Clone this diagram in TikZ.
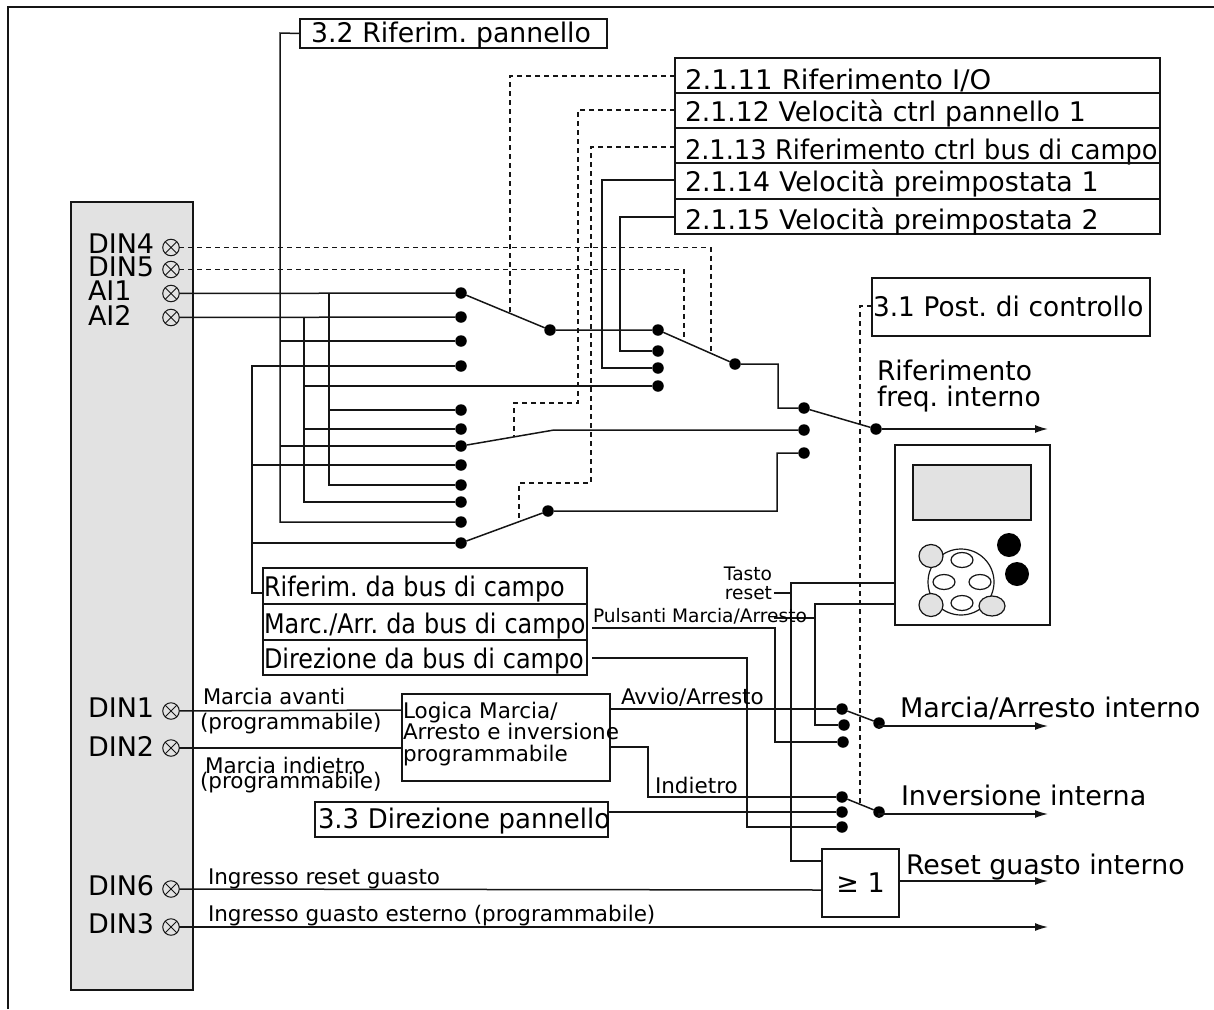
\documentclass[tikz,border=0pt]{standalone}
\usepackage{fontspec}
\usepackage{graphicx}
\setmainfont{DejaVu Sans}
\usetikzlibrary{arrows.meta}
\definecolor{lc}{HTML}{151515}
\definecolor{gr}{HTML}{E2E2E2}
\newcommand\fL{\fontsize{27}{27}\selectfont}
\newcommand\fM{\fontsize{21.5}{21.5}\selectfont}
\newcommand\fS{\fontsize{18.6}{18.6}\selectfont}
\newcommand\W[2]{\scalebox{#1}[1]{#2}}
\frenchspacing
\tikzset{
  wire/.style={draw=lc,line width=1.5pt},
  dash wire/.style={draw=lc,line width=1.2pt,dash pattern=on 5pt off 4pt},
  out wire/.style={wire,-{Latex[length=13pt,width=8pt]}},
  dotn/.style={circle,fill=black,draw=none,minimum size=11.5pt,inner sep=0pt,outer sep=0pt},
  term/.style={circle,draw=lc,line width=1pt,minimum size=16.5pt,inner sep=0pt,outer sep=0pt,
    path picture={\draw[lc,line width=1pt] (path picture bounding box.north west)--(path picture bounding box.south east)
      (path picture bounding box.north east)--(path picture bounding box.south west);}},
  lab/.style={anchor=base west,inner sep=0pt,outer sep=0pt,text=black},
  boxst/.style={draw=lc,line width=1.5pt,anchor=north west,inner ysep=0pt,outer sep=0pt,text depth=0pt,align=left,text=black},
}
% name, x1, y1, x2, y2, text height, side gap, text
\newcommand\BX[8]{%
  \pgfmathsetmacro\bw{#4-#2}\pgfmathsetmacro\bh{#5-#3}\pgfmathsetmacro\tw{#4-#2-2*#7}%
  \node[boxst,font=\fL,minimum width=\bw pt,minimum height=\bh pt,inner xsep=#7pt,text width=\tw pt,text height=#6pt] (#1) at (#2,#3) {\mbox{#8}};}
\begin{document}
\begin{tikzpicture}[x=1pt,y=-1pt]
\useasboundingbox (0,0) rectangle (1214,1009);
% frame
\draw[draw=lc,line width=1.4pt] (8,1009) -- (8,7) -- (1214,7);
% input block
\node[draw=lc,line width=1.5pt,fill=gr,anchor=north west,minimum width=122pt,minimum height=788pt,inner sep=0pt,outer sep=0pt] (inblock) at (71,202) {};
\foreach \n/\t/\by/\cy in {din4/DIN4/253/247.5,din5/DIN5/276/269.5,ai1/AI1/300/293.5,ai2/AI2/325/317.5,din1/DIN1/717/711,din2/DIN2/756/748,din6/DIN6/895/889,din3/DIN3/933/927}{
  \node[lab,font=\fL] (t\n) at (88,\by) {\t};
  \node[term] (\n) at (171,\cy) {};
}
% dots
\foreach \n/\x/\y in {d1/461/293,d2/461/317,d3/461/341,d4/461/366,d5/461/410,d6/461/429,d7/461/446,d8/461/465,d9/461/485,d10/461/502,d11/461/522,d12/461/543,
  s1/550/330,s2/548/511,e1/658/330,e2/658/351,e3/658/368,e4/658/386,s3/735/364,t1/804/408,t2/804/430,t3/804/453,tout/876/429,
  u1/842/709,u2/844/725,u3/843/742,uout/879/723,v1/842/797,v2/842/812,v3/842/827,vout/879/812}{
  \node[dotn] (\n) at (\x,\y) {};
}
% boxes
\BX{r32}{300}{19}{607}{48}{17}{11}{\W{.99}{3.2 Riferim. pannello}}
\BX{b11}{675}{58}{1160}{93}{27}{10}{\W{1.02}{2.1.11 Riferimento I/O}}
\BX{b12}{675}{93}{1160}{128}{21}{10}{\W{.988}{2.1.12 Velocità ctrl pannello 1}}
\BX{b13}{675}{128}{1160}{163}{27}{10}{\W{.95}{2.1.13 Riferimento ctrl bus di campo}}
\BX{b14}{675}{163}{1160}{199}{20}{10}{\W{.993}{2.1.14 Velocità preimpostata 1}}
\BX{b15}{675}{199}{1160}{234}{25}{10}{\W{.993}{2.1.15 Velocità preimpostata 2}}
\BX{r31}{872}{278}{1150}{336}{18}{1}{\W{.975}{3.1 Post. di controllo}}
\BX{fb1}{263}{568}{587}{604}{20}{1}{\W{.885}{Riferim. da bus di campo}}
\BX{fb2}{263}{604}{587}{640}{22}{1}{\W{.885}{Marc./Arr. da bus di campo}}
\BX{fb3}{263}{640}{587}{675}{21}{1}{\W{.885}{Direzione da bus di campo}}
\BX{r33}{315}{802}{608}{837}{17}{3}{\W{.96}{3.3 Direzione pannello}}
\node[boxst,minimum width=208pt,minimum height=87pt,inner sep=0pt] (logic) at (402,694) {};
\node[anchor=north west,inner sep=0pt,outer sep=0pt,align=left,font=\fM,text=black] (logictxt) at (403,702)
  {Logica Marcia/\\Arresto e inversione\\programmabile};
\node[draw=lc,line width=1.5pt,anchor=north west,minimum width=77pt,minimum height=68pt,inner sep=0pt,outer sep=0pt,font=\fL] (orgate) at (822,849) {≥ 1};
% panel
\node[draw=lc,line width=1.5pt,anchor=north west,minimum width=155pt,minimum height=180pt,inner sep=0pt,outer sep=0pt] (panel) at (895,445) {};
\draw[draw=lc,line width=1.5pt,fill=gr] (913,465) rectangle (1031,520);
\fill[black] (1009,545) circle (12pt) (1017,574) circle (12pt);
\draw[draw=lc,line width=1.2pt] (961,582) circle (33pt);
\foreach \x/\y in {962/560,944/582,980/582,962/603}{\draw[draw=lc,line width=1.2pt,fill=white] (\x,\y) ellipse (11pt and 7.5pt);}
\draw[draw=lc,line width=1.2pt,fill=gr] (931,556) ellipse (12pt and 11.5pt) (931,605) ellipse (12pt and 11.5pt) (992,606) ellipse (13pt and 10pt);
% junction coordinates
\coordinate (vA) at (329,293);
\coordinate (vB) at (304,317);
\coordinate (vC) at (280,33);
\coordinate (vD) at (252,593);
\coordinate (fbin) at (263,593);
% main inputs
\draw[wire] (ai1) -- (d1);
\draw[wire] (ai2) -- (d2);
\draw[wire] (vA) |- (d9);
\draw[wire] (vA |- d5) -- (d5);
\draw[wire] (vB) |- (d10);
\draw[wire] (vB |- d6) -- (d6);
\draw[wire] (vB |- e4) -- (e4);
\draw[wire] (r32.west) -- (vC) |- (d11);
\draw[wire] (vC |- d3) -- (d3);
\draw[wire] (vC |- d7) -- (d7);
\draw[wire] (fbin) -- (vD) |- (d4);
\draw[wire] (vD |- d8) -- (d8);
\draw[wire] (vD |- d12) -- (d12);
% switches
\coordinate (k2) at (554,430);
\coordinate (k3) at (777,511);
\coordinate (b1) at (778,364);
\coordinate (oA) at (1048,429);
\draw[wire] (d1) -- (s1) -- (e1);
\draw[wire] (d7) -- (k2) -- (t2);
\draw[wire] (d12) -- (s2) -- (k3) |- (t3);
\draw[wire] (e1) -- (s3) -- (b1) |- (t1);
\draw[wire] (t1) -- (tout);
\draw[out wire] (tout) -- (oA);
% preset speeds
\coordinate (p14) at (675,180);
\coordinate (p15) at (675,217);
\draw[wire] (p14) -- (602,180) |- (e3);
\draw[wire] (p15) -- (620,217) |- (e2);
% dashed controls
\coordinate (p11) at (675,76);
\coordinate (p12) at (675,110);
\coordinate (p13) at (675,147);
\coordinate (p31) at (872,306);
\draw[dash wire] (p11) -- (510,76) -- (510,313);
\draw[dash wire] (p12) -- (578,110) -- (578,403) -- (514,403) -- (514,437);
\draw[dash wire] (p13) -- (591,147) -- (591,483) -- (519,483) -- (519,521);
\draw[dash wire] (din4) -- (711,247.5) -- (711,353);
\draw[dash wire] (din5) -- (684,269.5) -- (684,341);
\draw[dash wire] (p31) -- (860,306) -- (860,803);
% panel wires
\coordinate (pA) at (895,583);
\coordinate (pB) at (895,604);
\coordinate (pC) at (822,861);
\draw[wire] (pA) -- (791,583) -- (791,861) -- (pC);
\draw[wire] (pB) -- (815,604) |- (u2);
\draw[wire] (774,593) -- (791,593);
\draw[wire] (774,618) -- (815,618);
\coordinate (f2) at (592,628);
\coordinate (f3) at (592,658);
\draw[wire] (f2) -- (775,628) |- (u3);
\draw[wire] (f3) -- (747,658) |- (v3);
% logic
\coordinate (l1) at (610,709);
\coordinate (l2) at (610,747);
\coordinate (li1) at (402,710);
\coordinate (li2) at (402,748);
\draw[wire] (din1) -- (li1);
\draw[wire] (din2) -- (li2);
\draw[wire] (l1) -- (u1);
\draw[wire] (l2) -- (648,747) |- (v1);
\coordinate (r33e) at (608,812);
\draw[wire] (r33e) -- (v2);
\draw[wire] (u1) -- (uout);
\draw[wire] (v1) -- (vout);
\coordinate (oB) at (1048,726);
\coordinate (oC) at (1048,814);
\coordinate (oD) at (1048,881);
\coordinate (oE) at (1048,927);
\draw[out wire] (uout) |- (oB);
\draw[out wire] (vout) |- (oC);
\coordinate (orin) at (822,890);
\coordinate (orout) at (899,881);
\draw[wire] (din6) -- (orin);
\draw[out wire] (orout) -- (oD);
\draw[out wire] (din3) -- (oE);
% labels
\node[lab,font=\fM] (lma) at (203,704) {\W{.98}{Marcia avanti}};
\node[lab,font=\fM] (lmap) at (200,729) {(programmabile)};
\node[lab,font=\fM] (lmi) at (205,773) {Marcia indietro};
\node[lab,font=\fM] (lmip) at (200,788) {(programmabile)};
\node[lab,font=\fM] (lrg) at (208,884) {Ingresso reset guasto};
\node[lab,font=\fM] (lge) at (208,921) {Ingresso guasto esterno (programmabile)};
\node[lab,font=\fM] (lav) at (621,704) {Avvio/Arresto};
\node[lab,font=\fM] (lin) at (655,793) {Indietro};
\node[lab,font=\fS] (lpu) at (593,622) {Pulsanti Marcia/Arresto};
\node[lab,font=\fS,anchor=base east] (lta) at (772,580) {Tasto};
\node[lab,font=\fS,anchor=base east] (lre) at (772,599) {reset};
\node[lab,font=\fL] (lrf) at (877,380) {\W{.98}{Riferimento}};
\node[lab,font=\fL] (lfq) at (877,406) {\W{.98}{freq. interno}};
\node[lab,font=\fL] (lmo) at (900,717) {Marcia/Arresto interno};
\node[lab,font=\fL] (lio) at (901,805) {Inversione interna};
\node[lab,font=\fL] (lro) at (906,874) {\W{.993}{Reset guasto interno}};
\end{tikzpicture}
\end{document}
